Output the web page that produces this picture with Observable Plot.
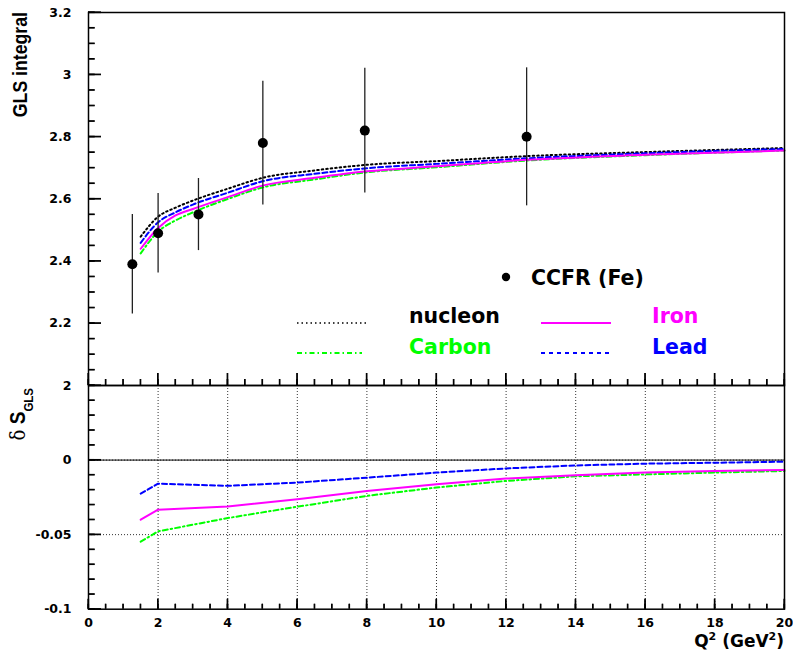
<!DOCTYPE html>
<html><head><meta charset="utf-8">
<script src="https://cdn.jsdelivr.net/npm/d3@7"></script>
<script src="https://cdn.jsdelivr.net/npm/@observablehq/plot@0.6"></script>
<style>
body{margin:0;background:#fff}
#chart{position:relative;width:793px;height:656px;overflow:hidden;background:#fff}
#chart svg{position:absolute;left:0}
</style></head><body><div id="chart"></div>
<script>
// ---------- data ----------
const ccfrQ2  = [1.26, 2.0, 3.16, 5.01, 7.94, 12.59];
const ccfrGLS = [2.39, 2.49, 2.55, 2.78, 2.82, 2.80];
const ccfrErr = [0.16, 0.128, 0.116, 0.199, 0.201, 0.222];

const curveQ2   = [1.5, 2, 2.5, 3, 4, 5, 6.5, 8, 10, 12.6, 16, 20];
const nucleonGLS= [2.479, 2.543, 2.572, 2.595, 2.633, 2.668, 2.692, 2.710, 2.722, 2.738, 2.751, 2.764];
const leadGLS   = [2.459, 2.525, 2.557, 2.582, 2.620, 2.657, 2.681, 2.699, 2.713, 2.731, 2.747, 2.761];
const ironGLS   = [2.440, 2.507, 2.547, 2.568, 2.606, 2.643, 2.668, 2.689, 2.705, 2.726, 2.742, 2.756];
const carbonGLS = [2.425, 2.495, 2.531, 2.557, 2.600, 2.637, 2.663, 2.686, 2.702, 2.724, 2.741, 2.756];

const deltaQ2     = [1.5, 2, 4, 6, 8, 10, 12, 14, 16, 18, 20];
const leadDelta   = [-0.0225, -0.0158, -0.0173, -0.0151, -0.0118, -0.0084, -0.0056, -0.0036, -0.0024, -0.0018, -0.0011];
const ironDelta   = [-0.0400, -0.0333, -0.0311, -0.0262, -0.0207, -0.0162, -0.0124, -0.0102, -0.0084, -0.0073, -0.0067];
const carbonDelta = [-0.0547, -0.0478, -0.0389, -0.0313, -0.0240, -0.0184, -0.0140, -0.0109, -0.0096, -0.0084, -0.0073];

const xMajorTicks = [0, 2, 4, 6, 8, 10, 12, 14, 16, 18, 20];
const xTickLabels = ["0","2","4","6","8","10","12","14","16","18","20"];
const xGridTicks  = [2, 4, 6, 8, 10, 12, 14, 16, 18];
const yTopTicks   = [2.2, 2.4, 2.6, 2.8, 3, 3.2];
const yTopLabels  = ["2.2","2.4","2.6","2.8","3","3.2"];
const yBotTicks   = [0.05, 0, -0.05, -0.1];
const yBotLabels  = ["2","0","-0.05","-0.1"];
const yBotGrid    = [0, -0.05];

// ---------- styles ----------
const series = [
  {name:"nucleon", color:"#000000", dash:"1.5,3",        top:nucleonGLS, delta:null},
  {name:"Carbon",  color:"#00ff00", dash:"5,3,1.5,3",    top:carbonGLS,  delta:carbonDelta},
  {name:"Lead",    color:"#0000ff", dash:"5,3",          top:leadGLS,    delta:leadDelta},
  {name:"Iron",    color:"#ff00ff", dash:null,           top:ironGLS,    delta:ironDelta}
];

const W = 793, H = 656, ML = 88, MR = 9;
const topT = 12, topB = 385, botB = 608.7;
const plotW = W - ML - MR;
const tickFont = {fontSize: 12.5, fontWeight: "bold", fontFamily: "DejaVu Sans", fill: "black"};
const minorX = d3.range(0, 20.001, 0.5);
const minorTopY = d3.range(2, 3.2001, 0.05);
const minorBotY = d3.range(-0.1, 0.0501, 0.01);

// inward-pointing tick marks
const leftTicks = (ticks, len) => Plot.ruleY(ticks, {y: d=>d, insetRight: plotW - len, stroke: "black", strokeWidth: 1.2});
const bottomTicks = (ticks, len, panelH) => Plot.ruleX(ticks, {x: d=>d, insetTop: panelH - len, stroke: "black", strokeWidth: 1.2});

const pts = ccfrQ2.map((q,i)=>({q, v: ccfrGLS[i], lo: ccfrGLS[i]-ccfrErr[i], hi: ccfrGLS[i]+ccfrErr[i]}));

// ---------- top panel (own svg: y 0..388) ----------
const topH = topB - topT;
const topSvgH = 388;
const topMarks = [
  leftTicks(minorTopY, 6.7),
  leftTicks(yTopTicks, 13),
  bottomTicks(minorX, 6, topH),
  bottomTicks(xMajorTicks, 12, topH),
];
for (const s of series) {
  const rows = curveQ2.map((q,i)=>({q, v: s.top[i]}));
  topMarks.push(Plot.line(rows, {x:"q", y:"v", stroke: s.color, strokeWidth: 2, strokeDasharray: s.dash || undefined, curve: "monotone-x"}));
}
topMarks.push(
  Plot.ruleX(pts, {x:"q", y1:"lo", y2:"hi", stroke:"#222", strokeWidth: 1.3}),
  Plot.dot(pts, {x:"q", y:"v", r: 5, fill:"black", stroke:"none"}),
  Plot.axisY({ticks: yTopTicks, tickSize: 0, tickPadding: 17, tickFormat: d => yTopLabels[yTopTicks.indexOf(d)], label: null, ...tickFont}),
  Plot.frame({stroke:"black", strokeWidth: 1.5})
);
const topPlot = Plot.plot({
  width: W, height: topSvgH,
  marginLeft: ML, marginRight: MR, marginTop: topT, marginBottom: topSvgH - topB,
  x: {domain: [0, 20], axis: null},
  y: {domain: [2, 3.2], axis: null},
  style: {background: "transparent", overflow: "visible", top: "0px"},
  marks: topMarks
});

// ---------- bottom panel (own svg: y 380..656) ----------
const botTop = 380;
const botSvgH = H - botTop;
const botH = botB - topB;
const botMarks = [
  Plot.ruleX(xGridTicks, {x: d=>d, stroke:"#333", strokeWidth: 1, strokeDasharray: "1,2"}),
  Plot.ruleY(yBotGrid, {y: d=>d, stroke:"#333", strokeWidth: 1, strokeDasharray: "1,2"}),
  Plot.ruleY([0], {stroke:"black", strokeWidth: 1}),
  leftTicks(minorBotY, 6.7),
  leftTicks(yBotTicks, 13),
  bottomTicks(minorX, 5, botH),
  bottomTicks(xMajorTicks, 10, botH),
];
for (const s of series) {
  if (!s.delta) continue;
  const rows = deltaQ2.map((q,i)=>({q, v: s.delta[i]}));
  botMarks.push(Plot.line(rows, {x:"q", y:"v", stroke: s.color, strokeWidth: 2, strokeDasharray: s.dash || undefined}));
}
botMarks.push(
  Plot.axisY({ticks: yBotTicks, tickSize: 0, tickPadding: 17, tickFormat: d => yBotLabels[yBotTicks.indexOf(d)], label: null, ...tickFont}),
  Plot.axisX({ticks: xMajorTicks, tickSize: 0, tickPadding: 9, tickFormat: d => xTickLabels[xMajorTicks.indexOf(d)], label: null, ...tickFont}),
  Plot.frame({stroke:"black", strokeWidth: 1.5})
);
const botPlot = Plot.plot({
  width: W, height: botSvgH,
  marginLeft: ML, marginRight: MR, marginTop: topB - botTop, marginBottom: botSvgH - (botB - botTop),
  x: {domain: [0, 20], axis: null},
  y: {domain: [-0.1, 0.05], axis: null},
  style: {background: "transparent", overflow: "visible", top: botTop + "px"},
  marks: botMarks
});

// ---------- titles and legend (layout layer) ----------
const legendFont = 'font-family="DejaVu Sans" font-weight="bold" font-size="20.5"';
const ov = `
<svg xmlns="http://www.w3.org/2000/svg" width="${W}" height="${H}" style="pointer-events:none;top:0">
  <text transform="translate(27,12) scale(1.18,1) rotate(-90)" text-anchor="end"
        font-family="Liberation Sans" font-weight="bold" font-size="17.7" fill="black">GLS integral</text>
  <text transform="translate(25,388) scale(1.18,1) rotate(-90)" text-anchor="end" fill="black"><tspan font-family="DejaVu Serif" font-size="18">δ</tspan><tspan font-family="Liberation Sans" font-weight="bold" font-size="19"> S</tspan><tspan font-family="Liberation Sans" font-weight="bold" font-size="11.5" dy="6.5">GLS</tspan></text>
  <text x="784" y="647" text-anchor="end" font-family="DejaVu Sans" font-weight="bold" font-size="17" fill="black">Q<tspan font-size="11" dy="-7">2</tspan><tspan dy="7"> (GeV</tspan><tspan font-size="11" dy="-7">2</tspan><tspan dy="7">)</tspan></text>

  <circle cx="506" cy="277" r="4.2" fill="black"/>
  <text x="531" y="285" ${legendFont} fill="black">CCFR (Fe)</text>

  <line x1="297" x2="367" y1="323" y2="323" stroke="#000" stroke-width="1.6" stroke-dasharray="1.5,3"/>
  <text x="409" y="323" ${legendFont} fill="black">nucleon</text>
  <line x1="541" x2="611" y1="323" y2="323" stroke="#ff00ff" stroke-width="2"/>
  <text x="652" y="323" ${legendFont} fill="#ff00ff">Iron</text>

  <line x1="297" x2="362" y1="353" y2="353" stroke="#00ff00" stroke-width="2" stroke-dasharray="5,3,1.5,3"/>
  <text x="409" y="354" ${legendFont} fill="#00ff00">Carbon</text>
  <line x1="541" x2="610" y1="353" y2="353" stroke="#0000ff" stroke-width="2" stroke-dasharray="4,4"/>
  <text x="652" y="354" ${legendFont} fill="#0000ff">Lead</text>
</svg>`;
const chart = document.getElementById("chart");
chart.insertAdjacentHTML("beforeend", ov);
chart.appendChild(botPlot);
chart.appendChild(topPlot);

// ---------- axis tick layer, positioned with the plots' own scales ----------
const tx = topPlot.scale("x"), ty = topPlot.scale("y");
const bx = botPlot.scale("x"), by = botPlot.scale("y");
const seg = (x1,y1,x2,y2) => `<line x1="${x1}" y1="${y1}" x2="${x2}" y2="${y2}" stroke="black" stroke-width="1.2"/>`;
let tl = "";
for (const v of minorTopY) { const y = ty.apply(v); tl += seg(ML, y, ML + 6.7, y); }
for (const v of yTopTicks) { const y = ty.apply(v); tl += seg(ML, y, ML + 13, y); }
for (const v of minorX) { const x = tx.apply(v); tl += seg(x, topB, x, topB - 6); }
for (const v of xMajorTicks) { const x = tx.apply(v); tl += seg(x, topB, x, topB - 12); }
for (const v of minorBotY) { const y = by.apply(v) + botTop; tl += seg(ML, y, ML + 6.7, y); }
for (const v of yBotTicks) { const y = by.apply(v) + botTop; tl += seg(ML, y, ML + 13, y); }
for (const v of minorX) { const x = bx.apply(v); tl += seg(x, botB, x, botB - 5); }
for (const v of xMajorTicks) { const x = bx.apply(v); tl += seg(x, botB, x, botB - 10); }
chart.insertAdjacentHTML("beforeend", `<svg xmlns="http://www.w3.org/2000/svg" width="${W}" height="${H}" style="pointer-events:none;top:0">${tl}</svg>`);
</script></body></html>
